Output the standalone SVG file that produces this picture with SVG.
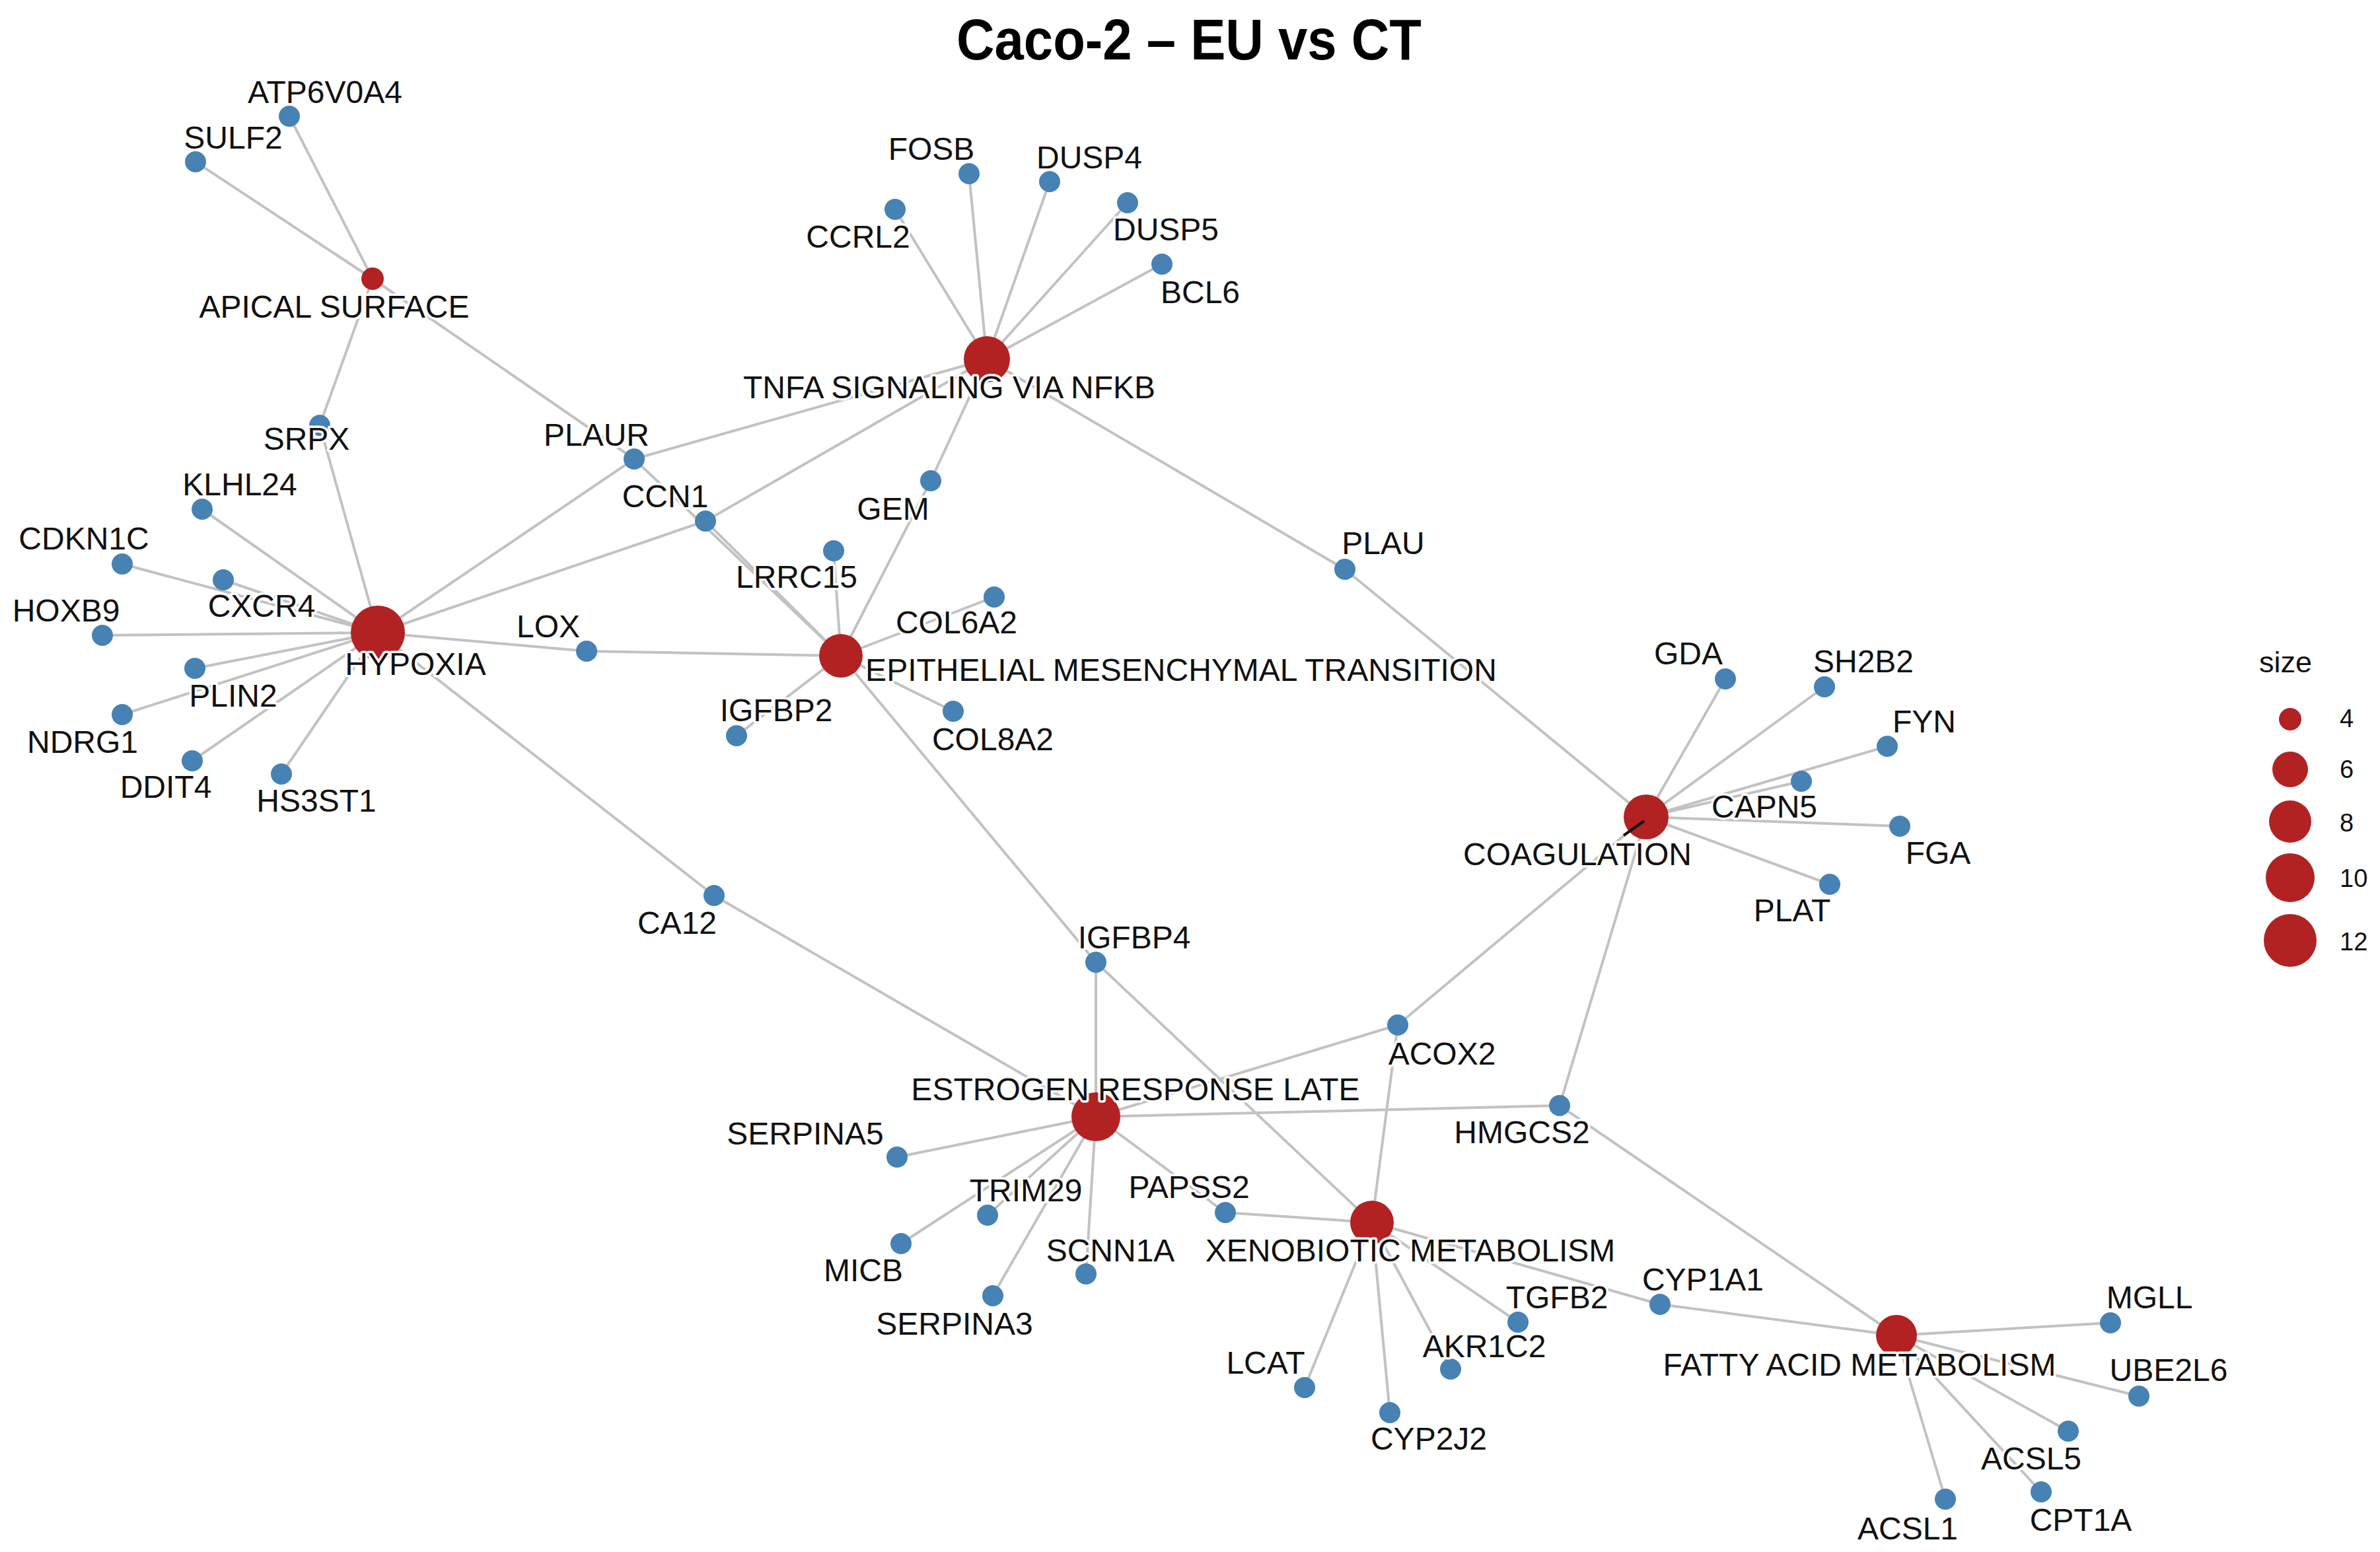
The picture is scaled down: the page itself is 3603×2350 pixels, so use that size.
<svg xmlns="http://www.w3.org/2000/svg" width="3603" height="2350" viewBox="0 0 3603 2350">
<style>
.e{stroke:#c2c2c2;stroke-width:4;fill:none;stroke-linecap:round}
.g{fill:#4682b4}
.c{fill:#b22222}
.t{font-family:"Liberation Sans",Arial,sans-serif;font-size:48px;fill:#111;text-anchor:middle;stroke:#fff;stroke-width:7;stroke-linejoin:round;paint-order:stroke}
.lg{font-family:"Liberation Sans",Arial,sans-serif;fill:#111}
</style>
<rect width="3603" height="2350" fill="#fff"/>
<text x="1448" y="90" font-family="Liberation Sans,Arial,sans-serif" font-weight="bold" font-size="88" fill="#000" textLength="704" lengthAdjust="spacingAndGlyphs">Caco-2 – EU vs CT</text>
<g id="connectors">
<!-- APICAL SURFACE -->
<line class="e" x1="564" y1="422" x2="296" y2="245"/>
<line class="e" x1="564" y1="422" x2="438" y2="176"/>
<line class="e" x1="564" y1="422" x2="484" y2="644"/>
<line class="e" x1="564" y1="422" x2="960" y2="695"/>
<!-- TNFA -->
<line class="e" x1="1494" y1="544" x2="1355" y2="317"/>
<line class="e" x1="1494" y1="544" x2="1467" y2="263"/>
<line class="e" x1="1494" y1="544" x2="1589" y2="275"/>
<line class="e" x1="1494" y1="544" x2="1707" y2="307"/>
<line class="e" x1="1494" y1="544" x2="1759" y2="400"/>
<line class="e" x1="1494" y1="544" x2="960" y2="695"/>
<line class="e" x1="1494" y1="544" x2="1068" y2="789"/>
<line class="e" x1="1494" y1="544" x2="1409" y2="728"/>
<line class="e" x1="1494" y1="544" x2="2036" y2="862"/>
<!-- HYPOXIA -->
<line class="e" x1="572" y1="958" x2="484" y2="644"/>
<line class="e" x1="572" y1="958" x2="306" y2="771"/>
<line class="e" x1="572" y1="958" x2="185" y2="854"/>
<line class="e" x1="572" y1="958" x2="338" y2="878"/>
<line class="e" x1="572" y1="958" x2="155" y2="962"/>
<line class="e" x1="572" y1="958" x2="295" y2="1012"/>
<line class="e" x1="572" y1="958" x2="185" y2="1082"/>
<line class="e" x1="572" y1="958" x2="291" y2="1152"/>
<line class="e" x1="572" y1="958" x2="426" y2="1172"/>
<line class="e" x1="572" y1="958" x2="960" y2="695"/>
<line class="e" x1="572" y1="958" x2="1068" y2="789"/>
<line class="e" x1="572" y1="958" x2="888" y2="986"/>
<line class="e" x1="572" y1="958" x2="1081" y2="1356"/>
<!-- EMT -->
<line class="e" x1="1273" y1="993" x2="960" y2="695"/>
<line class="e" x1="1273" y1="993" x2="1068" y2="789"/>
<line class="e" x1="1273" y1="993" x2="1262" y2="834"/>
<line class="e" x1="1273" y1="993" x2="888" y2="986"/>
<line class="e" x1="1273" y1="993" x2="1505" y2="904"/>
<line class="e" x1="1273" y1="993" x2="1115" y2="1114"/>
<line class="e" x1="1273" y1="993" x2="1443" y2="1077"/>
<line class="e" x1="1273" y1="993" x2="1409" y2="728"/>
<line class="e" x1="1273" y1="993" x2="1659" y2="1457"/>
<!-- COAGULATION -->
<line class="e" x1="2492" y1="1237" x2="2036" y2="862"/>
<line class="e" x1="2492" y1="1237" x2="2612" y2="1028"/>
<line class="e" x1="2492" y1="1237" x2="2762" y2="1040"/>
<line class="e" x1="2492" y1="1237" x2="2857" y2="1130"/>
<line class="e" x1="2492" y1="1237" x2="2727" y2="1183"/>
<line class="e" x1="2492" y1="1237" x2="2876" y2="1251"/>
<line class="e" x1="2492" y1="1237" x2="2770" y2="1339"/>
<line class="e" x1="2492" y1="1237" x2="2116" y2="1552"/>
<line class="e" x1="2492" y1="1237" x2="2361" y2="1674"/>
<!-- ESTROGEN RESPONSE LATE -->
<line class="e" x1="1659" y1="1691" x2="1081" y2="1356"/>
<line class="e" x1="1659" y1="1691" x2="1659" y2="1457"/>
<line class="e" x1="1659" y1="1691" x2="2116" y2="1552"/>
<line class="e" x1="1659" y1="1691" x2="2361" y2="1674"/>
<line class="e" x1="1659" y1="1691" x2="1358" y2="1752"/>
<line class="e" x1="1659" y1="1691" x2="1495" y2="1840"/>
<line class="e" x1="1659" y1="1691" x2="1364" y2="1883"/>
<line class="e" x1="1659" y1="1691" x2="1503" y2="1962"/>
<line class="e" x1="1659" y1="1691" x2="1644" y2="1929"/>
<line class="e" x1="1659" y1="1691" x2="1855" y2="1836"/>
<!-- XENOBIOTIC -->
<line class="e" x1="2077" y1="1851" x2="1659" y2="1457"/>
<line class="e" x1="2077" y1="1851" x2="2116" y2="1552"/>
<line class="e" x1="2077" y1="1851" x2="1855" y2="1836"/>
<line class="e" x1="2077" y1="1851" x2="1975" y2="2101"/>
<line class="e" x1="2077" y1="1851" x2="2104" y2="2139"/>
<line class="e" x1="2077" y1="1851" x2="2196" y2="2073"/>
<line class="e" x1="2077" y1="1851" x2="2298" y2="2002"/>
<line class="e" x1="2077" y1="1851" x2="2513" y2="1975"/>
<!-- FATTY ACID -->
<line class="e" x1="2871" y1="2022" x2="2361" y2="1674"/>
<line class="e" x1="2871" y1="2022" x2="2513" y2="1975"/>
<line class="e" x1="2871" y1="2022" x2="3195" y2="2003"/>
<line class="e" x1="2871" y1="2022" x2="3238" y2="2114"/>
<line class="e" x1="2871" y1="2022" x2="3131" y2="2167"/>
<line class="e" x1="2871" y1="2022" x2="3090" y2="2259"/>
<line class="e" x1="2871" y1="2022" x2="2945" y2="2270"/>
</g>
<g id="nodes">
<g id="apical-surface"><circle class="c" cx="564" cy="422" r="17"/></g>
<g id="tnfa-signaling"><circle class="c" cx="1494" cy="544" r="35"/></g>
<g id="hypoxia"><circle class="c" cx="572" cy="958" r="41"/></g>
<g id="emt"><circle class="c" cx="1273" cy="993" r="33"/></g>
<g id="coagulation"><circle class="c" cx="2492" cy="1237" r="34"/><line x1="2489" y1="1243" x2="2458" y2="1265" stroke="#111" stroke-width="4"/></g>
<g id="estrogen-late"><circle class="c" cx="1659" cy="1691" r="37"/></g>
<g id="xenobiotic"><circle class="c" cx="2077" cy="1851" r="33"/></g>
<g id="fatty-acid"><circle class="c" cx="2871" cy="2022" r="31"/></g>
<g id="ATP6V0A4"><circle class="g" cx="438" cy="176" r="16"/></g>
<g id="SULF2"><circle class="g" cx="296" cy="245" r="16"/></g>
<g id="SRPX"><circle class="g" cx="484" cy="644" r="16"/></g>
<g id="PLAUR"><circle class="g" cx="960" cy="695" r="16"/></g>
<g id="CCN1"><circle class="g" cx="1068" cy="789" r="16"/></g>
<g id="KLHL24"><circle class="g" cx="306" cy="771" r="16"/></g>
<g id="CDKN1C"><circle class="g" cx="185" cy="854" r="16"/></g>
<g id="CXCR4"><circle class="g" cx="338" cy="878" r="16"/></g>
<g id="HOXB9"><circle class="g" cx="155" cy="962" r="16"/></g>
<g id="PLIN2"><circle class="g" cx="295" cy="1012" r="16"/></g>
<g id="NDRG1"><circle class="g" cx="185" cy="1082" r="16"/></g>
<g id="DDIT4"><circle class="g" cx="291" cy="1152" r="16"/></g>
<g id="HS3ST1"><circle class="g" cx="426" cy="1172" r="16"/></g>
<g id="LOX"><circle class="g" cx="888" cy="986" r="16"/></g>
<g id="IGFBP2"><circle class="g" cx="1115" cy="1114" r="16"/></g>
<g id="CA12"><circle class="g" cx="1081" cy="1356" r="16"/></g>
<g id="FOSB"><circle class="g" cx="1467" cy="263" r="16"/></g>
<g id="DUSP4"><circle class="g" cx="1589" cy="275" r="16"/></g>
<g id="CCRL2"><circle class="g" cx="1355" cy="317" r="16"/></g>
<g id="DUSP5"><circle class="g" cx="1707" cy="307" r="16"/></g>
<g id="BCL6"><circle class="g" cx="1759" cy="400" r="16"/></g>
<g id="GEM"><circle class="g" cx="1409" cy="728" r="16"/></g>
<g id="LRRC15"><circle class="g" cx="1262" cy="834" r="16"/></g>
<g id="COL6A2"><circle class="g" cx="1505" cy="904" r="16"/></g>
<g id="PLAU"><circle class="g" cx="2036" cy="862" r="16"/></g>
<g id="COL8A2"><circle class="g" cx="1443" cy="1077" r="16"/></g>
<g id="GDA"><circle class="g" cx="2612" cy="1028" r="16"/></g>
<g id="SH2B2"><circle class="g" cx="2762" cy="1040" r="16"/></g>
<g id="FYN"><circle class="g" cx="2857" cy="1130" r="16"/></g>
<g id="CAPN5"><circle class="g" cx="2727" cy="1183" r="16"/></g>
<g id="FGA"><circle class="g" cx="2876" cy="1251" r="16"/></g>
<g id="PLAT"><circle class="g" cx="2770" cy="1339" r="16"/></g>
<g id="ACOX2"><circle class="g" cx="2116" cy="1552" r="16"/></g>
<g id="IGFBP4"><circle class="g" cx="1659" cy="1457" r="16"/></g>
<g id="SERPINA5"><circle class="g" cx="1358" cy="1752" r="16"/></g>
<g id="TRIM29"><circle class="g" cx="1495" cy="1840" r="16"/></g>
<g id="PAPSS2"><circle class="g" cx="1855" cy="1836" r="16"/></g>
<g id="MICB"><circle class="g" cx="1364" cy="1883" r="16"/></g>
<g id="SCNN1A"><circle class="g" cx="1644" cy="1929" r="16"/></g>
<g id="SERPINA3"><circle class="g" cx="1503" cy="1962" r="16"/></g>
<g id="LCAT"><circle class="g" cx="1975" cy="2101" r="16"/></g>
<g id="CYP2J2"><circle class="g" cx="2104" cy="2139" r="16"/></g>
<g id="AKR1C2"><circle class="g" cx="2196" cy="2073" r="16"/></g>
<g id="HMGCS2"><circle class="g" cx="2361" cy="1674" r="16"/></g>
<g id="TGFB2"><circle class="g" cx="2298" cy="2002" r="16"/></g>
<g id="CYP1A1"><circle class="g" cx="2513" cy="1975" r="16"/></g>
<g id="MGLL"><circle class="g" cx="3195" cy="2003" r="16"/></g>
<g id="UBE2L6"><circle class="g" cx="3238" cy="2114" r="16"/></g>
<g id="ACSL5"><circle class="g" cx="3131" cy="2167" r="16"/></g>
<g id="CPT1A"><circle class="g" cx="3090" cy="2259" r="16"/></g>
<g id="ACSL1"><circle class="g" cx="2945" cy="2270" r="16"/></g>
</g>
<g id="labels">
<text class="t" x="492" y="156">ATP6V0A4</text>
<text class="t" x="353" y="225">SULF2</text>
<text class="t" x="506" y="481">APICAL SURFACE</text>
<text class="t" x="464" y="681">SRPX</text>
<text class="t" x="903" y="675">PLAUR</text>
<text class="t" x="363" y="750">KLHL24</text>
<text class="t" x="1007" y="768">CCN1</text>
<text class="t" x="127" y="832">CDKN1C</text>
<text class="t" x="396" y="934">CXCR4</text>
<text class="t" x="100" y="941">HOXB9</text>
<text class="t" x="629" y="1022">HYPOXIA</text>
<text class="t" x="830" y="965">LOX</text>
<text class="t" x="353" y="1070">PLIN2</text>
<text class="t" x="125" y="1140">NDRG1</text>
<text class="t" x="251" y="1208">DDIT4</text>
<text class="t" x="479" y="1229">HS3ST1</text>
<text class="t" x="1175" y="1092">IGFBP2</text>
<text class="t" x="1410" y="242">FOSB</text>
<text class="t" x="1649" y="255">DUSP4</text>
<text class="t" x="1299" y="375">CCRL2</text>
<text class="t" x="1765" y="364">DUSP5</text>
<text class="t" x="1817" y="459">BCL6</text>
<text class="t" x="1437" y="603">TNFA SIGNALING VIA NFKB</text>
<text class="t" x="1352" y="787">GEM</text>
<text class="t" x="1206" y="890">LRRC15</text>
<text class="t" x="2094" y="839">PLAU</text>
<text class="t" x="1448" y="959">COL6A2</text>
<text class="t" x="1788" y="1031">EPITHELIAL MESENCHYMAL TRANSITION</text>
<text class="t" x="1503" y="1136">COL8A2</text>
<text class="t" x="2556" y="1006">GDA</text>
<text class="t" x="2821" y="1018">SH2B2</text>
<text class="t" x="2913" y="1109">FYN</text>
<text class="t" x="2671" y="1238">CAPN5</text>
<text class="t" x="2934" y="1308">FGA</text>
<text class="t" x="2388" y="1310">COAGULATION</text>
<text class="t" x="2713" y="1395">PLAT</text>
<text class="t" x="1025" y="1414">CA12</text>
<text class="t" x="1717" y="1436">IGFBP4</text>
<text class="t" x="2183" y="1612">ACOX2</text>
<text class="t" x="1719" y="1666">ESTROGEN RESPONSE LATE</text>
<text class="t" x="1219" y="1733">SERPINA5</text>
<text class="t" x="2304" y="1731">HMGCS2</text>
<text class="t" x="1553" y="1819">TRIM29</text>
<text class="t" x="1800" y="1814">PAPSS2</text>
<text class="t" x="1307" y="1940">MICB</text>
<text class="t" x="1681" y="1910">SCNN1A</text>
<text class="t" x="2135" y="1910">XENOBIOTIC METABOLISM</text>
<text class="t" x="1445" y="2021">SERPINA3</text>
<text class="t" x="1916" y="2080">LCAT</text>
<text class="t" x="2247" y="2055">AKR1C2</text>
<text class="t" x="2163" y="2195">CYP2J2</text>
<text class="t" x="2357" y="1981">TGFB2</text>
<text class="t" x="2578" y="1954">CYP1A1</text>
<text class="t" x="3254" y="1981">MGLL</text>
<text class="t" x="2815" y="2083">FATTY ACID METABOLISM</text>
<text class="t" x="3283" y="2091">UBE2L6</text>
<text class="t" x="3075" y="2225">ACSL5</text>
<text class="t" x="2888" y="2331">ACSL1</text>
<text class="t" x="3150" y="2318">CPT1A</text>
</g>
<g id="legend">
<text class="lg" x="3420" y="1018" font-size="45">size</text>
<circle class="c" cx="3467" cy="1089" r="17"/>
<circle class="c" cx="3467" cy="1165" r="27"/>
<circle class="c" cx="3467" cy="1244" r="32"/>
<circle class="c" cx="3467" cy="1329" r="37"/>
<circle class="c" cx="3467" cy="1424" r="40"/>
<text class="lg" x="3542" y="1101" font-size="38">4</text>
<text class="lg" x="3542" y="1178" font-size="38">6</text>
<text class="lg" x="3542" y="1259" font-size="38">8</text>
<text class="lg" x="3542" y="1343" font-size="38">10</text>
<text class="lg" x="3542" y="1439" font-size="38">12</text>
</g>
</svg>
